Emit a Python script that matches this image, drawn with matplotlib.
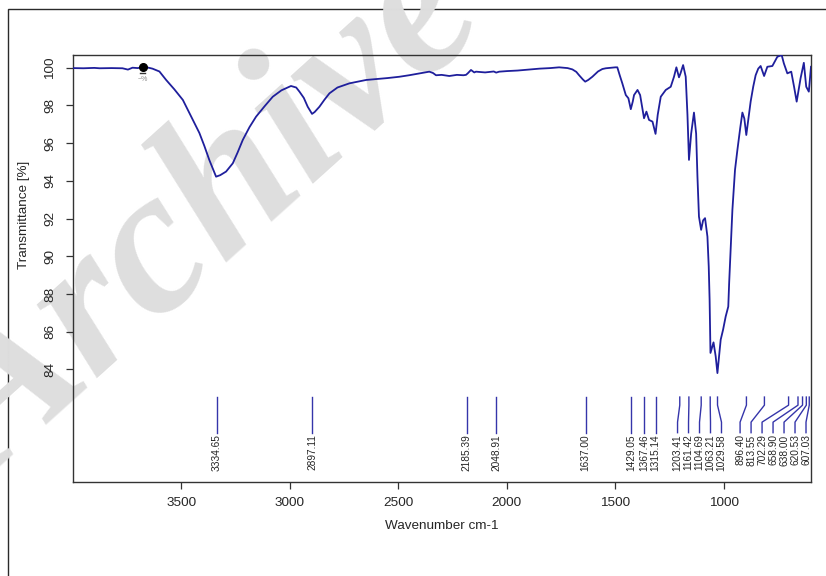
import matplotlib
matplotlib.use("Agg")
import matplotlib.pyplot as plt
from matplotlib.patches import Rectangle

plt.rcParams['font.family'] = ['Liberation Sans', 'DejaVu Sans']

# IR spectrum (wavenumber in cm-1, transmittance in %)
wavenumber = [3998, 3950, 3900, 3875, 3820, 3770, 3745, 3724, 3700, 3676, 3650, 3632,
              3600, 3569, 3531, 3492, 3462, 3416, 3393, 3370, 3339, 3320, 3293, 3262,
              3240, 3216, 3185, 3155, 3116, 3078, 3038, 2994, 2970, 2955, 2935, 2917,
              2897, 2885, 2863, 2840, 2817, 2780, 2725, 2690, 2648, 2600, 2550, 2495,
              2450, 2400, 2357, 2340, 2326, 2300, 2265, 2230, 2200, 2188, 2180, 2165,
              2150, 2142, 2100, 2060, 2049, 2035, 2000, 1950, 1900, 1850, 1800, 1759,
              1720, 1698, 1680, 1667, 1650, 1639, 1625, 1606, 1580, 1560, 1544, 1520,
              1500, 1491, 1480, 1468, 1452, 1440, 1429, 1420, 1414, 1398, 1386, 1375,
              1368, 1357, 1345, 1329, 1315, 1305, 1291, 1268, 1245, 1230, 1219, 1207,
              1200, 1188, 1176, 1168, 1161, 1151, 1138, 1128, 1122, 1115, 1105, 1096,
              1087, 1076, 1070, 1066, 1062, 1048, 1038, 1030, 1015, 1004, 992, 980,
              976, 969, 961, 949, 938, 925, 915, 906, 897, 887, 877, 865, 854, 842,
              831, 815, 800, 777, 754, 734, 724, 708, 690, 677, 665, 647, 632, 621,
              609, 599]
transmittance = [99.98, 99.97, 99.99, 99.97, 99.98, 99.97, 99.90, 100.0, 99.98, 100.03, 100.0, 99.95,
                 99.80, 99.35, 98.85, 98.29, 97.60, 96.54, 95.85, 95.10, 94.22, 94.30, 94.49, 94.93,
                 95.50, 96.17, 96.85, 97.40, 97.95, 98.46, 98.80, 99.03, 98.95, 98.73, 98.40, 97.93,
                 97.55, 97.65, 97.93, 98.30, 98.64, 98.95, 99.17, 99.25, 99.35, 99.40, 99.45, 99.52,
                 99.60, 99.70, 99.79, 99.72, 99.60, 99.62, 99.56, 99.62, 99.60, 99.62, 99.70, 99.88,
                 99.75, 99.79, 99.75, 99.80, 99.74, 99.79, 99.82, 99.85, 99.90, 99.95, 99.98, 100.02,
                 99.98, 99.91, 99.78, 99.60, 99.38, 99.26, 99.35, 99.52, 99.80, 99.93, 99.97, 100.0,
                 100.02, 100.02, 99.60, 99.17, 98.55, 98.38, 97.80, 98.20, 98.55, 98.82, 98.55, 97.80,
                 97.32, 97.67, 97.23, 97.14, 96.49, 97.50, 98.46, 98.82, 98.99, 99.52, 100.02, 99.49,
                 99.70, 100.14, 99.52, 97.50, 95.11, 96.50, 97.62, 96.50, 94.22, 92.10, 91.40, 91.90,
                 92.02, 91.04, 89.45, 87.70, 84.87, 85.43, 84.69, 83.80, 85.57, 86.10, 86.80, 87.33,
                 88.57, 90.34, 92.46, 94.58, 95.64, 96.80, 97.62, 97.30, 96.43, 97.30, 98.20, 99.00,
                 99.60, 99.95, 100.09, 99.56, 100.05, 100.09, 100.58, 100.67, 100.23, 99.70, 99.79, 98.99,
                 98.20, 99.44, 100.26, 98.99, 98.73, 100.05]

# Picked peaks
peaks = [3334.65, 2897.11, 2185.39, 2048.91, 1637.00, 1429.05, 1367.46, 1315.14,
         1203.41, 1161.42, 1104.69, 1063.21, 1029.58, 896.40, 813.55, 702.29,
         658.90, 638.00, 620.53, 607.03]

x_ticks = [3500, 3000, 2500, 2000, 1500, 1000]
y_ticks = [84, 86, 88, 90, 92, 94, 96, 98, 100]

line_color = '#1f1f9c'
peak_color = '#3535aa'
text_color = '#262626'

fig = plt.figure(figsize=(8.26, 5.76), dpi=100)

# outer page frame
fig.patches.append(Rectangle((8 / 826, -0.1), 1.2, (576 - 9) / 576 + 0.1,
                             transform=fig.transFigure, fill=False,
                             edgecolor='#2a2a2a', linewidth=1.0, zorder=-2))

# background watermark
fig.text(0.255, 0.62, 'Archive', rotation=42, fontsize=150,
         family=['Liberation Serif', 'DejaVu Serif'], style='italic', weight='bold',
         color='#dedede', ha='center', va='center', zorder=-1)

ax = fig.add_axes([73 / 826, 1 - 481.7 / 576, (811 - 73) / 826, (481.7 - 54.7) / 576])
ax.set_facecolor('none')

ax.plot(wavenumber, transmittance, color=line_color, linewidth=1.3, zorder=3)
ax.plot([3676], [100.03], marker='o', color='black', markersize=5.5, zorder=4)
ax.plot([3666, 3690], [99.7, 99.7], color='#333333', linewidth=1.0, zorder=4)
ax.text(3678, 99.55, '~%', fontsize=5, color='#888888', ha='center', va='top', zorder=4)

xmin, xmax = 3998, 599
ax.set_xlim(xmin, xmax)
ax.set_ylim(78.04, 100.69)

# peak markers with leader lines; labels spread apart where crowded
min_gap = 50.6
lower = 622.0
order = sorted(range(len(peaks)), key=lambda i: -peaks[i])
pos = [peaks[i] for i in order]
for _ in range(400):
    for k in range(len(pos) - 1):
        d = pos[k] - pos[k + 1]
        if d < min_gap:
            s = (min_gap - d) / 2
            pos[k] += s
            pos[k + 1] -= s
    if pos[-1] < lower:
        pos[-1] = lower
for k, i in enumerate(order):
    p = peaks[i]
    lp = pos[k]
    ax.plot([p, p, lp, lp], [82.53, 82.1, 81.2, 80.64], color=peak_color,
            linewidth=1.0, zorder=3)
    ax.text(lp, 80.55, f'{p:.2f}', rotation=90, ha='center', va='top',
            fontsize=7.3, color=text_color)

ax.set_xticks(x_ticks)
ax.set_yticks(y_ticks)
ax.tick_params(axis='both', direction='out', length=5, width=0.9, colors='#333333',
               labelcolor=text_color, labelsize=9.7)
ax.tick_params(axis='x', pad=6)
ax.tick_params(axis='y', pad=7)
for lab in ax.get_yticklabels():
    lab.set_rotation(90)
    lab.set_va('center')

for sp in ax.spines.values():
    sp.set_color('#333333')
    sp.set_linewidth(1.0)

ax.set_xlabel('Wavenumber cm-1', fontsize=9.7, color=text_color, labelpad=8)
ax.set_ylabel('Transmittance [%]', fontsize=9.7, color=text_color)
ax.yaxis.set_label_coords(-0.058, 0.625)

fig.savefig('out.png', dpi=100)
